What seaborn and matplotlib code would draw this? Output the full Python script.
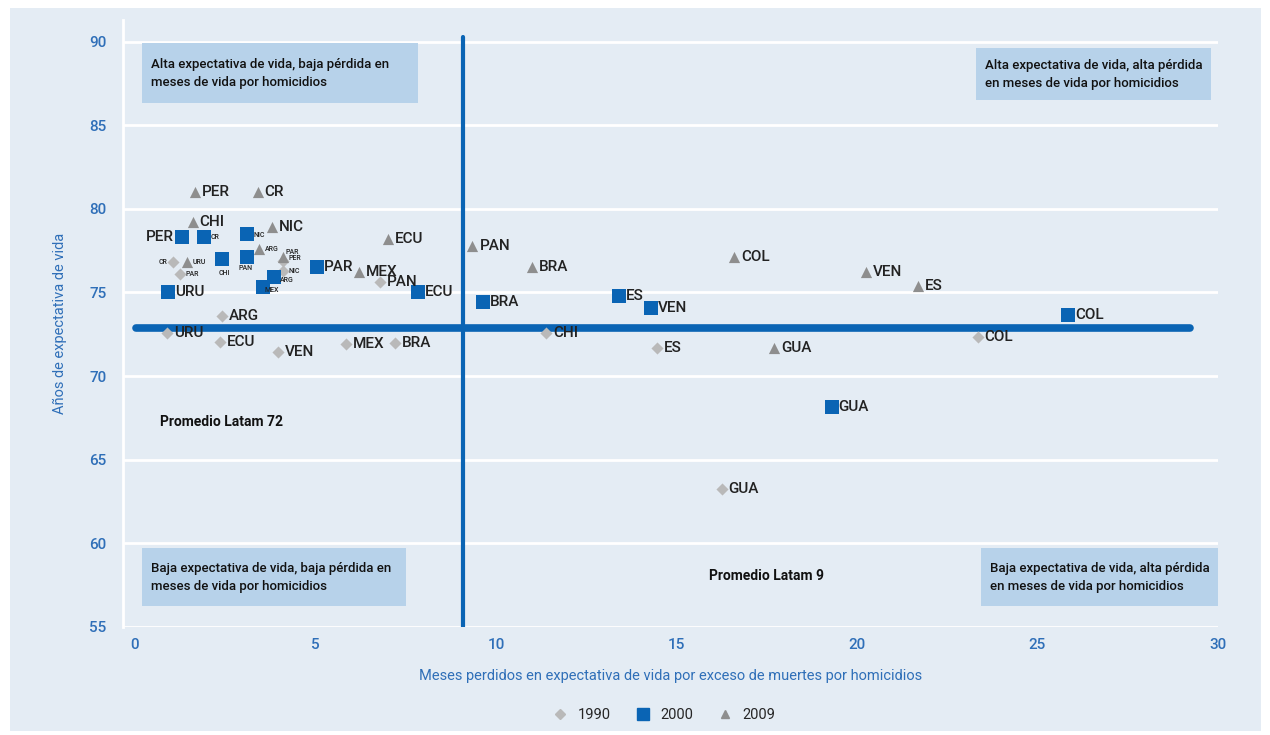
import pandas as pd
import matplotlib.pyplot as plt
import seaborn as sns
from matplotlib.patches import Rectangle
from matplotlib.lines import Line2D

# === DATOS ===
paises_1990 = ['CR', 'PAR', 'URU', 'ARG', 'ECU', 'VEN', 'MEX', 'BRA', 'PAN', 'CHI', 'ES', 'COL', 'GUA', 'PER', 'NIC']
meses_1990 = [1.05, 1.25, 0.9, 2.4, 2.35, 3.95, 5.85, 7.2, 6.8, 11.4, 14.45, 23.35, 16.25, 4.1, 4.1]
vida_1990 = [76.8, 76.1, 72.6, 73.6, 72.05, 71.45, 71.9, 72.0, 75.6, 72.6, 71.7, 72.35, 63.25, 76.9, 76.3]

paises_2000 = ['PER', 'CR', 'NIC', 'CHI', 'PAN', 'PAR', 'ARG', 'MEX', 'URU', 'ECU', 'BRA', 'ES', 'VEN', 'COL', 'GUA']
meses_2000 = [1.3, 1.9, 3.1, 2.4, 3.1, 5.05, 3.85, 3.55, 0.92, 7.85, 9.65, 13.4, 14.3, 25.85, 19.3]
vida_2000 = [78.3, 78.3, 78.5, 77.0, 77.1, 76.5, 75.9, 75.3, 75.0, 75.0, 74.45, 74.8, 74.1, 73.65, 68.15]

paises_2009 = ['PER', 'CR', 'CHI', 'NIC', 'ECU', 'URU', 'ARG', 'PAR', 'MEX', 'PAN', 'BRA', 'COL', 'VEN', 'ES', 'GUA']
meses_2009 = [1.65, 3.4, 1.6, 3.8, 7.0, 1.45, 3.45, 4.1, 6.2, 9.35, 11.0, 16.6, 20.25, 21.7, 17.7]
vida_2009 = [81.0, 81.0, 79.2, 78.9, 78.2, 76.8, 77.6, 77.1, 76.2, 77.8, 76.5, 77.1, 76.2, 75.4, 71.7]

promedio_meses = 9.1
promedio_vida = 72.9

df = pd.concat([
    pd.DataFrame({'pais': paises_1990, 'meses': meses_1990, 'vida': vida_1990, 'anio': '1990'}),
    pd.DataFrame({'pais': paises_2000, 'meses': meses_2000, 'vida': vida_2000, 'anio': '2000'}),
    pd.DataFrame({'pais': paises_2009, 'meses': meses_2009, 'vida': vida_2009, 'anio': '2009'}),
], ignore_index=True)

# === ESTILO ===
AZUL = '#0a64b4'
AZUL_TXT = '#2f6fb8'
FONDO = '#e4ecf4'
CAJA = '#b7d2ea'
estilos = {
    '1990': dict(marker='D', color='#b9b9b9', s=38),
    '2000': dict(marker='s', color=AZUL, s=110),
    '2009': dict(marker='^', color='#8e8e8e', s=65),
}

# etiquetas pequenas o desplazadas: (dx, dy, ha, tamano)
etiquetas_esp = {
    ('CR', '1990'): (-4, 0, 'right', 5), ('PAR', '1990'): (4, 0, 'left', 5),
    ('PER', '1990'): (4, 2, 'left', 5), ('NIC', '1990'): (4, 0, 'left', 5),
    ('CHI', '2000'): (-2, -10, 'left', 5), ('CR', '2000'): (5, 0, 'left', 5),
    ('NIC', '2000'): (5, -1, 'left', 5), ('PAN', '2000'): (-6, -8, 'left', 5),
    ('ARG', '2000'): (4, -2, 'left', 5), ('MEX', '2000'): (1, -2, 'left', 5),
    ('URU', '2009'): (4, 0, 'left', 5), ('ARG', '2009'): (4, 0, 'left', 5),
    ('PAR', '2009'): (2, 4, 'left', 5), ('PER', '2000'): (-6, 0, 'right', 11),
}

sns.set_style('white')
plt.rcParams['font.family'] = ['Roboto', 'DejaVu Sans']

fig = plt.figure(figsize=(12.7, 7.35), dpi=100)
fig.patches.append(Rectangle((0.008, 0.006), 0.985, 0.983, transform=fig.transFigure,
                             facecolor=FONDO, edgecolor='none', zorder=-10))
ax = fig.add_axes([0.0969, 0.147, 0.862, 0.826])
ax.set_facecolor(FONDO)

for anio, st in estilos.items():
    sub = df[df['anio'] == anio]
    sns.scatterplot(data=sub, x='meses', y='vida', marker=st['marker'], color=st['color'],
                    s=st['s'], linewidth=0, ax=ax, zorder=4)

for _, r in df.iterrows():
    dx, dy, ha, tam = etiquetas_esp.get((r['pais'], r['anio']), (5, 0, 'left', 11))
    ax.annotate(r['pais'], (r['meses'], r['vida']), xytext=(dx, dy), textcoords='offset points',
                ha=ha, va='center', fontsize=tam, color='#222222', fontweight='medium', zorder=5)

# lineas de promedio
ax.axhline(promedio_vida, xmin=0.012, xmax=0.975, color=AZUL, lw=5.5, zorder=3)
ax.axvline(promedio_meses, ymin=0, ymax=0.972, color=AZUL, lw=3, zorder=3)

# cuadrantes
cajas = [
    ((0.2, 86.3), 7.65, 3.6, 'Alta expectativa de vida, baja pérdida en\nmeses de vida por homicidios'),
    ((23.3, 86.5), 6.5, 3.1, 'Alta expectativa de vida, alta pérdida\nen meses de vida por homicidios'),
    ((0.2, 56.25), 7.3, 3.45, 'Baja expectativa de vida, baja pérdida en\nmeses de vida por homicidios'),
    ((23.45, 56.25), 6.55, 3.45, 'Baja expectativa de vida, alta pérdida\nen meses de vida por homicidios'),
]
for (x0, y0), w, h, txt in cajas:
    ax.add_patch(Rectangle((x0, y0), w, h, facecolor=CAJA, edgecolor='none', zorder=2))
    ax.text(x0 + 0.25, y0 + h / 2, txt, ha='left', va='center', fontsize=9.5,
            linespacing=1.5, color='#111111', fontweight='medium', zorder=3)

ax.text(0.7, 67.0, 'Promedio Latam 72', fontsize=10, fontweight='bold', color='#111111')
ax.text(15.9, 57.8, 'Promedio Latam 9', fontsize=10, fontweight='bold', color='#111111')

ax.set_xlim(-0.33, 30)
ax.set_ylim(55, 91.3)
ax.set_xticks(range(0, 31, 5))
ax.set_yticks(range(55, 91, 5))
ax.yaxis.grid(True, color='white', lw=2)
ax.set_axisbelow(True)
for lado in ['top', 'right', 'bottom']:
    ax.spines[lado].set_visible(False)
ax.spines['left'].set_color('white')
ax.spines['left'].set_linewidth(2)
ax.tick_params(axis='both', length=0, labelsize=11, labelcolor=AZUL_TXT)
for lbl in ax.get_xticklabels() + ax.get_yticklabels():
    lbl.set_fontweight('medium')
ax.tick_params(axis='y', pad=12)
ax.tick_params(axis='x', pad=8)
ax.set_xlabel('Meses perdidos en expectativa de vida por exceso de muertes por homicidios',
              color=AZUL_TXT, fontsize=10.5, labelpad=12)
ax.set_ylabel('Años de expectativa de vida', color=AZUL_TXT, fontsize=10.5, labelpad=16)

handles = [Line2D([], [], marker=st['marker'], color=st['color'], ls='none',
                  markersize=st['s'] ** 0.5 * 0.8, label=anio) for anio, st in estilos.items()]
fig.legend(handles=handles, loc='center', bbox_to_anchor=(0.52, 0.027), ncol=3, frameon=False,
           fontsize=10.5, handletextpad=0.2, columnspacing=1.2)

plt.savefig('out.png', dpi=100)
